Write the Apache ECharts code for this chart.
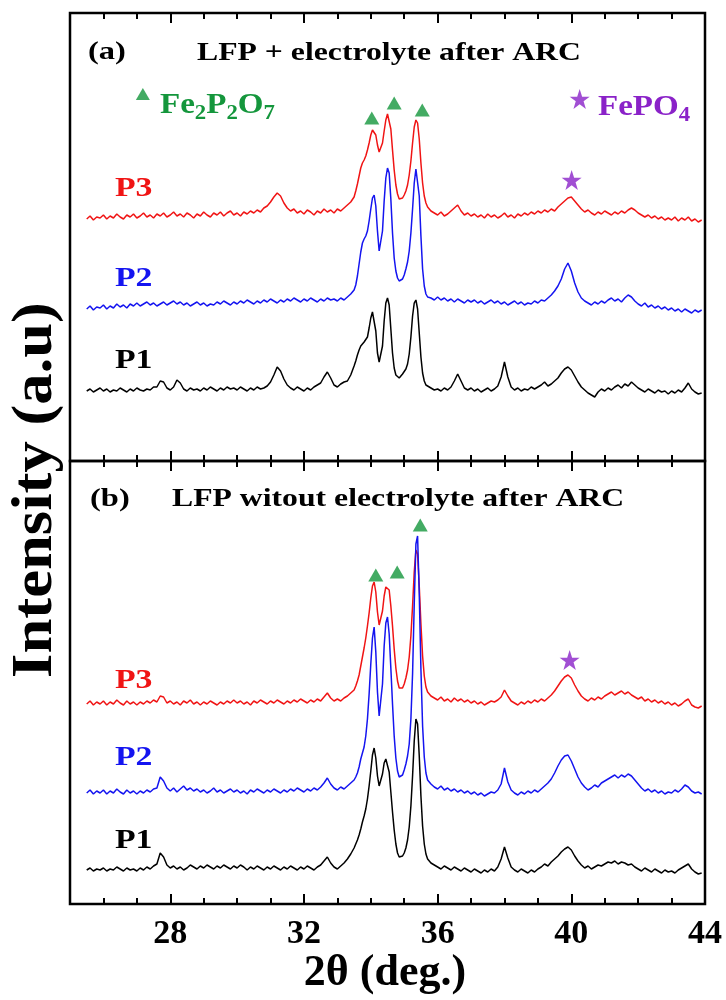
<!DOCTYPE html>
<html>
<head>
<meta charset="utf-8">
<script src="https://cdn.jsdelivr.net/npm/echarts@6/dist/echarts.min.js"></script>
<style>html,body{margin:0;padding:0;background:#fff}#c{width:726px;height:1000px}</style>
</head>
<body>
<div id="c"></div>
<script>
// ---- sampling grid of 2theta (deg.) ----
const thetaA = [25.5,25.6,25.7,25.8,25.9,
26.0,26.1,26.2,26.3,26.4,26.5,26.6,26.7,26.8,26.9,
27.0,27.1,27.2,27.3,27.4,27.5,27.6,27.7,27.8,27.9,
28.0,28.1,28.2,28.3,28.4,28.5,28.6,28.7,28.8,28.9,
29.0,29.1,29.2,29.3,29.4,29.5,29.6,29.7,29.8,29.9,
30.0,30.1,30.2,30.3,30.4,30.5,30.6,30.7,30.8,30.9,
31.0,31.1,31.2,31.3,31.4,31.5,31.6,31.7,31.8,31.9,
32.0,32.1,32.2,32.3,32.4,32.5,32.6,32.7,32.8,32.9,
33.0,33.1,33.2,33.3,33.4,33.5];
const thetaB = [33.55,33.6,33.65,33.7,33.75,33.8,33.85,33.9,33.95,34.0,34.05,34.1,34.15,34.2,34.25,34.3,34.35,34.4,34.45,34.5,34.55,34.6,34.65,34.7,34.75,34.8,34.85,34.9,34.95,35.0,35.05,35.1,35.15,35.2,35.25,35.3,35.35,35.4,35.45,35.5,35.55,35.6,35.65,35.7];
const thetaC = [35.8,35.9,
36.0,36.1,36.2,36.3,36.4,36.5,36.6,36.7,36.8,36.9,
37.0,37.1,37.2,37.3,37.4,37.5,37.6,37.7,37.8,37.9,
38.0,38.1,38.2,38.3,38.4,38.5,38.6,38.7,38.8,38.9,
39.0,39.1,39.2,39.3,39.4,39.5,39.6,39.7,39.8,39.9,
40.0,40.1,40.2,40.3,40.4,40.5,40.6,40.7,40.8,40.9,
41.0,41.1,41.2,41.3,41.4,41.5,41.6,41.7,41.8,41.9,
42.0,42.1,42.2,42.3,42.4,42.5,42.6,42.7,42.8,42.9,
43.0,43.1,43.2,43.3,43.4,43.5,43.6,43.7,43.8,43.9];
const theta = thetaA.concat(thetaB, thetaC);

// ---- panel (a): LFP + electrolyte after ARC (stacked intensity, a.u.) ----
const p3a = [242,245,241,244,243,
246,242,245,243,247,244,242,246,244,247,
243,245,248,244,246,243,247,245,248,244,
246,249,245,247,244,248,246,243,247,245,
249,246,244,248,246,249,245,248,250,246,
248,245,249,247,250,248,251,249,253,255,
259,264,268,265,258,253,250,252,248,250,
247,251,249,246,250,248,252,249,251,248,
252,250,253,256,259,264,
270,277,285,293,298,301,305,311,318,326,331,333,326,316,309,310,318,330,341,347,345,332,311,291,276,267,262,261,263,266,270,276,286,300,318,334,341,338,322,298,278,265,258,254,
250,248,
246,249,245,247,250,253,256,250,246,248,
245,247,244,246,243,247,244,246,243,245,
248,244,246,243,247,245,248,246,249,247,
250,248,251,249,252,250,254,257,260,263,
264,260,256,252,249,251,248,246,249,247,
250,248,246,249,247,250,248,251,253,251,
248,246,244,246,243,245,242,244,241,243,
241,244,240,243,241,244,240,242,239,241];
const p2a = [152,155,151,154,153,
156,152,155,153,157,154,156,153,157,155,
158,155,157,159,156,158,155,157,159,156,
158,160,157,159,156,158,155,157,159,156,
158,155,157,156,159,157,160,158,156,159,
157,160,158,161,159,157,160,158,161,159,
162,160,158,161,159,162,160,163,161,159,
162,160,163,161,159,162,160,163,161,162,
160,163,161,164,167,171,
176,185,197,209,218,222,225,230,240,252,263,266,255,230,210,208,230,260,283,293,288,262,228,203,190,183,180,179,182,186,192,199,210,228,252,278,292,290,265,225,192,175,167,164,
163,161,
164,161,163,160,162,159,162,160,158,161,
159,161,158,160,157,159,161,158,160,157,
159,156,158,160,157,159,156,158,157,160,
158,161,160,163,166,170,175,182,192,198,
190,178,169,163,160,158,156,159,157,160,
158,161,163,160,162,159,163,166,164,160,
157,155,158,154,156,153,155,152,154,151,
153,150,152,149,152,150,148,151,149,151];
const p1a = [70,72,69,71,73,
70,72,69,71,70,73,71,69,72,70,
73,71,70,72,71,74,74,80,79,73,
71,74,81,78,72,70,73,71,72,70,
73,71,74,72,70,73,71,74,72,73,
71,74,72,70,73,71,74,72,73,75,
79,86,94,90,82,76,73,71,74,72,
70,73,71,74,76,78,84,89,83,76,
74,77,79,80,86,95,
100,106,111,115,117,119,120,124,133,143,149,147,130,108,99,100,115,140,158,163,156,132,108,93,86,84,83,84,87,89,92,97,107,124,145,158,161,152,128,104,88,80,76,74,
73,71,
72,70,73,71,74,80,87,80,73,71,
73,70,72,69,71,73,70,72,75,84,
99,84,74,71,73,70,72,71,74,72,
74,76,79,75,77,80,83,88,92,94,
91,85,79,74,71,68,66,64,69,72,
70,73,71,74,76,73,77,75,79,76,
73,71,69,72,70,68,71,69,70,67,
70,68,71,69,73,78,72,69,67,68];

// ---- panel (b): LFP witout electrolyte after ARC ----
const p3b = [200,203,199,202,200,
203,199,202,200,204,201,199,203,200,202,
199,202,200,203,201,204,202,208,207,201,
203,200,202,199,203,201,204,200,202,199,
202,200,203,201,199,202,200,203,201,204,
201,203,200,202,199,203,201,204,202,200,
203,201,204,202,200,203,201,204,202,205,
203,201,204,202,205,203,207,211,206,203,
205,203,206,208,211,214,
218,223,229,238,247,256,266,278,291,306,318,322,312,292,279,280,293,308,317,319,314,298,278,255,236,223,216,214,216,220,226,234,247,268,298,332,354,350,318,280,248,228,217,212,
208,206,
204,207,203,205,202,206,203,205,202,204,
201,203,200,202,199,201,203,202,204,207,
214,208,203,201,199,202,200,203,201,204,
202,205,203,206,209,213,218,223,227,229,
226,219,213,208,205,203,206,204,207,205,
208,210,212,209,211,213,210,212,209,207,
205,207,203,205,202,204,201,203,200,202,
199,201,198,200,203,205,199,197,196,198];
const p2b = [111,114,110,113,111,
114,110,113,111,115,112,110,114,111,113,
110,113,111,114,112,115,116,127,123,116,
113,116,112,115,118,114,116,113,115,112,
114,111,113,116,112,114,111,113,115,112,
114,111,113,110,114,112,115,113,111,114,
112,115,113,111,114,112,115,113,116,114,
112,115,113,116,114,117,121,126,120,116,
114,117,115,118,121,124,
127,131,137,145,151,157,168,185,210,240,266,277,252,212,188,190,220,258,281,287,270,236,200,168,146,133,127,126,129,134,140,148,160,185,230,300,360,368,310,235,178,147,131,124,
120,117,
115,118,114,116,113,115,112,114,111,113,
110,112,109,111,108,110,112,111,114,120,
136,122,114,111,109,112,110,113,111,114,
112,115,118,121,125,131,138,144,148,149,
143,135,127,121,117,114,116,119,117,121,
123,125,127,129,126,129,127,130,128,124,
120,116,113,115,112,114,111,113,110,112,
111,114,112,115,119,117,113,111,112,110];
const p1b = [34,36,33,35,34,
36,33,35,34,37,35,33,36,34,35,
33,36,34,37,35,38,40,51,47,39,
36,38,35,37,34,36,39,37,35,38,
36,39,37,35,38,36,39,37,35,38,
36,39,37,34,37,35,38,36,34,37,
35,38,36,34,37,35,38,36,34,37,
35,38,36,34,37,39,43,47,41,37,
35,38,41,45,50,56,
60,64,69,75,82,88,95,105,118,133,149,156,146,128,118,119,130,141,145,143,132,112,92,74,60,51,47,46,48,51,56,64,77,98,128,163,185,180,148,108,78,60,50,45,
41,39,
37,35,38,36,34,37,35,33,36,34,
32,35,33,31,34,32,35,33,37,45,
57,46,37,34,32,35,33,31,34,32,
35,37,40,38,42,45,48,52,55,57,
54,48,43,39,36,38,35,37,39,38,
40,42,41,43,40,42,41,39,40,37,
35,33,36,34,32,35,33,31,34,32,
33,31,34,36,38,40,35,32,30,31];

// ---- phase markers [2theta, a.u.] ----
const fe2p2o7A = [[34.03,343],[34.70,358],[35.54,351]];
const fepo4A = [[40.01,281]];
const fe2p2o7B = [[34.15,329],[34.79,332],[35.48,379]];
const fepo4B = [[39.95,244]];
const legendTri = [[27.18,367]];
const legendStar = [[40.25,362]];

// ---- axis ticks / labels ----
const xMin = 25, xMax = 44;
const majorTicks = [28,32,36,40];
const minorTicks = [26,27,29,30,31,33,34,35,37,38,39,41,42,43];
const xLabels = [28,32,36,40,44];

const labelsA = ['P3','P2','P1'];
const labelsB = ['P3','P2','P1'];

[p3a,p2a,p1a,p3b,p2b,p1b].forEach((a,i)=>{ if(a.length!==theta.length) throw new Error('len '+i+' '+a.length+' vs '+theta.length); });

const FONT = '"Liberation Serif","Times New Roman",serif';
const RED = '#f01414', BLUE = '#1414f0', BLACK = '#000000';
const GREEN = '#14963c', PURPLE = '#8a22c8';
const STAR = 'path://M50,2 L61.8,36.2 L97.6,36.2 L68.6,57.4 L79.6,91.6 L50,70.4 L20.4,91.6 L31.4,57.4 L2.4,36.2 L38.2,36.2 Z';

function xAxisDef(grid, pos, major, withLabels){
  return {
    type:'value', gridIndex:grid, position:pos, min:xMin, max:xMax, interval:1,
    axisLine:{show:false}, splitLine:{show:false},
    axisTick:{show:true, inside:true, length: major?10:6, customValues: major?majorTicks:minorTicks,
      lineStyle:{color:'#000', width:2}},
    axisLabel:{show:withLabels, customValues:xLabels, showMinLabel:true, showMaxLabel:true,
      fontSize:34, fontWeight:'bold', fontFamily:FONT, color:'#000', margin:13}
  };
}
const pair = ys => theta.map((t,i)=>[t, ys[i]]);
function lineS(x, y, ys, color){
  return {type:'line', xAxisIndex:x, yAxisIndex:y, data:pair(ys), symbol:'none', silent:true,
    lineStyle:{color:color, width:1.5}, z:2};
}
function markS(x, y, pts, sym, size, color){
  return {type:'scatter', xAxisIndex:x, yAxisIndex:y, data:pts, symbol:sym, symbolSize:size, silent:true,
    itemStyle:{color:color}, z:5};
}
function txt(x, y, text, size, color, sx){
  return {type:'text', x:x, y:y, scaleX:sx||1, silent:true,
    style:{text:text, fill:color, font:'bold '+size+'px '+FONT, textAlign:'left', textVerticalAlign:'middle'}};
}
function chem(x, y, parts, color){
  let s = parts.map(p=>p[1]?('{s|'+p[0]+'}'):('{m|'+p[0]+'}')).join('');
  return {type:'text', x:x, y:y, scaleX:1.14, silent:true,
    style:{text:s, textVerticalAlign:'middle', rich:{
      m:{fontSize:29, fontWeight:'bold', fontFamily:FONT, fill:color, lineHeight:37},
      s:{fontSize:20, fontWeight:'bold', fontFamily:FONT, fill:color, lineHeight:21, padding:[16,0,0,0]}
    }}};
}

const chart = echarts.init(document.getElementById('c'), null, {renderer:'canvas'});
chart.setOption({
  animation:false,
  backgroundColor:'#ffffff',
  grid:[
    {left:70, right:21, top:13, height:448, show:true, borderColor:'#000', borderWidth:2.5},
    {left:70, right:21, top:461, height:443, show:true, borderColor:'#000', borderWidth:2.5}
  ],
  xAxis:[
    xAxisDef(0,'bottom',true,false), xAxisDef(0,'bottom',false,false),
    xAxisDef(0,'top',true,false), xAxisDef(0,'top',false,false),
    xAxisDef(1,'bottom',true,true), xAxisDef(1,'bottom',false,false),
    xAxisDef(1,'top',true,false), xAxisDef(1,'top',false,false)
  ],
  yAxis:[
    {type:'value', gridIndex:0, min:0, max:448, show:false},
    {type:'value', gridIndex:1, min:0, max:443, show:false}
  ],
  series:[
    lineS(0,0,p3a,RED), lineS(0,0,p2a,BLUE), lineS(0,0,p1a,BLACK),
    lineS(4,1,p3b,RED), lineS(4,1,p2b,BLUE), lineS(4,1,p1b,BLACK),
    markS(0,0,fe2p2o7A,'triangle',[15,13],GREEN),
    markS(0,0,legendTri,'triangle',[14,12],GREEN),
    markS(0,0,fepo4A,STAR,20,PURPLE),
    markS(0,0,legendStar,STAR,20,PURPLE),
    markS(4,1,fe2p2o7B,'triangle',[15,13],GREEN),
    markS(4,1,fepo4B,STAR,20,PURPLE)
  ],
  graphic:[
    txt(88,52,'(a)',26,'#000',1.25),
    txt(197,53,'LFP + electrolyte after ARC',26,'#000',1.22),
    txt(90,499,'(b)',26,'#000',1.25),
    txt(172,499,'LFP witout electrolyte after ARC',26,'#000',1.22),
    chem(160,106,[['Fe',0],['2',1],['P',0],['2',1],['O',0],['7',1]],GREEN),
    chem(598,108,[['Fe',0],['PO',0],['4',1]],PURPLE),
    txt(115,189,labelsA[0],27,RED,1.25),
    txt(115,279,labelsA[1],27,BLUE,1.25),
    txt(115,361,labelsA[2],27,BLACK,1.25),
    txt(115,681,labelsB[0],27,RED,1.25),
    txt(115,758,labelsB[1],27,BLUE,1.25),
    txt(115,841,labelsB[2],27,BLACK,1.25),
    {type:'text', x:36, y:490, rotation:Math.PI/2, scaleX:1.08, silent:true,
      style:{text:'Intensity (a.u)', fill:'#000', font:'bold 58px '+FONT, textAlign:'center', textVerticalAlign:'middle'}},
    {type:'text', x:385, y:974, silent:true,
      style:{text:'2θ (deg.)', fill:'#000', font:'bold 44px '+FONT, textAlign:'center', textVerticalAlign:'middle'}}
  ]
});
</script>
</body>
</html>
